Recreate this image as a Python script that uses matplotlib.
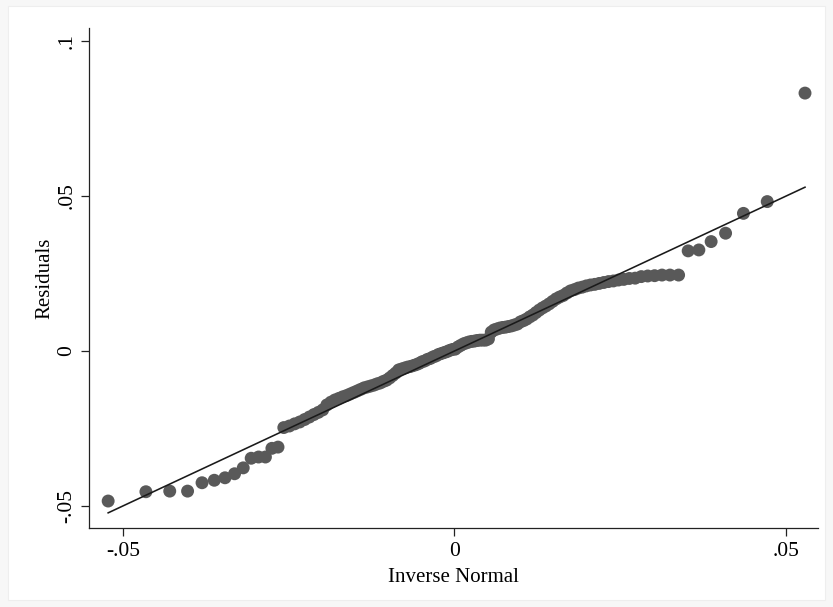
import numpy as np
import matplotlib
matplotlib.use("Agg")
import matplotlib.pyplot as plt
from matplotlib.patches import Rectangle
from statistics import NormalDist

# sorted residuals
residuals = [
    -0.0484, -0.0454, -0.0452, -0.0452, -0.0425, -0.0417, -0.0409, -0.0396,
    -0.0377, -0.0346, -0.0342, -0.0342, -0.0314, -0.0310, -0.0247, -0.0242,
    -0.0235, -0.0229, -0.0221, -0.0213, -0.0205, -0.0198, -0.0190, -0.0174,
    -0.0165, -0.0158, -0.0153, -0.0148, -0.0144, -0.0139, -0.0134, -0.0129,
    -0.0124, -0.0119, -0.0116, -0.0113, -0.0110, -0.0106, -0.0103, -0.0098,
    -0.0094, -0.0087, -0.0079, -0.0071, -0.0061, -0.0058, -0.0055, -0.0052,
    -0.0050, -0.0047, -0.0044, -0.0040, -0.0035, -0.0032, -0.0027, -0.0024,
    -0.0019, -0.0016, -0.0011, -0.0008, -0.0005, -0.0002, 0.0002, 0.0005,
    0.0006, 0.0013, 0.0018, 0.0023, 0.0026, 0.0029, 0.0031, 0.0032,
    0.0034, 0.0035, 0.0035, 0.0035, 0.0039, 0.0061, 0.0068, 0.0071,
    0.0074, 0.0076, 0.0077, 0.0079, 0.0081, 0.0084, 0.0087, 0.0094,
    0.0098, 0.0103, 0.0110, 0.0116, 0.0124, 0.0132, 0.0139, 0.0145,
    0.0152, 0.0160, 0.0168, 0.0174, 0.0179, 0.0187, 0.0194, 0.0198,
    0.0203, 0.0206, 0.0210, 0.0213, 0.0215, 0.0218, 0.0221, 0.0224,
    0.0226, 0.0229, 0.0231, 0.0234, 0.0235, 0.0240, 0.0242, 0.0243,
    0.0245, 0.0245, 0.0245, 0.0323, 0.0326, 0.0353, 0.0380, 0.0444,
    0.0482, 0.0832,
]
xticks = [-0.05, 0, 0.05]
xticklabels = ["-.05", "0", ".05"]
yticks = [-0.05, 0, 0.05, 0.1]
yticklabels = ["-.05", "0", ".05", ".1"]

# qnorm: inverse normal of i/(N+1), scaled by mean and sd of the variable
y = np.sort(np.array(residuals))
n = len(y)
dist = NormalDist(float(y.mean()), float(y.std(ddof=1)))
xq = np.array([dist.inv_cdf(i / (n + 1)) for i in range(1, n + 1)])

plt.rcParams["font.family"] = ["Liberation Serif", "DejaVu Serif"]
fig = plt.figure(figsize=(8.33, 6.07), dpi=100, facecolor="#f7f7f7")
fig.patches.append(Rectangle((8 / 833, 1 - 600 / 607), 817 / 833, 594 / 607,
                             transform=fig.transFigure, facecolor="white",
                             edgecolor="#eeeeee", lw=0.8, zorder=-5))

ax = fig.add_axes([89 / 833, 1 - 528 / 607, 729 / 833, 500 / 607])
ax.set_facecolor("none")
ax.scatter(xq, y, s=9.3 ** 2, color="#595959", edgecolors="none", zorder=2)
ax.plot(xq, xq, color="#1a1a1a", lw=1.15, zorder=3)

ax.set_xlim(-0.0551, 0.0548)
ax.set_ylim(-0.0571, 0.1042)
ax.set_xticks(xticks)
ax.set_xticklabels(xticklabels)
ax.set_yticks(yticks)
ax.set_yticklabels(yticklabels, rotation=90, va="center")
ax.tick_params(axis="both", length=6, width=0.9, labelsize=15.5, color="#222222")
ax.tick_params(axis="x", pad=4)
ax.tick_params(axis="y", pad=3)
for s in ["top", "right"]:
    ax.spines[s].set_visible(False)
for s in ["left", "bottom"]:
    ax.spines[s].set_linewidth(0.9)
    ax.spines[s].set_color("#222222")

ax.set_xlabel("Inverse Normal", fontsize=15, labelpad=5)
ax.set_ylabel("Residuals", fontsize=15, labelpad=2)

fig.savefig("out.png", dpi=100, facecolor=fig.get_facecolor())
